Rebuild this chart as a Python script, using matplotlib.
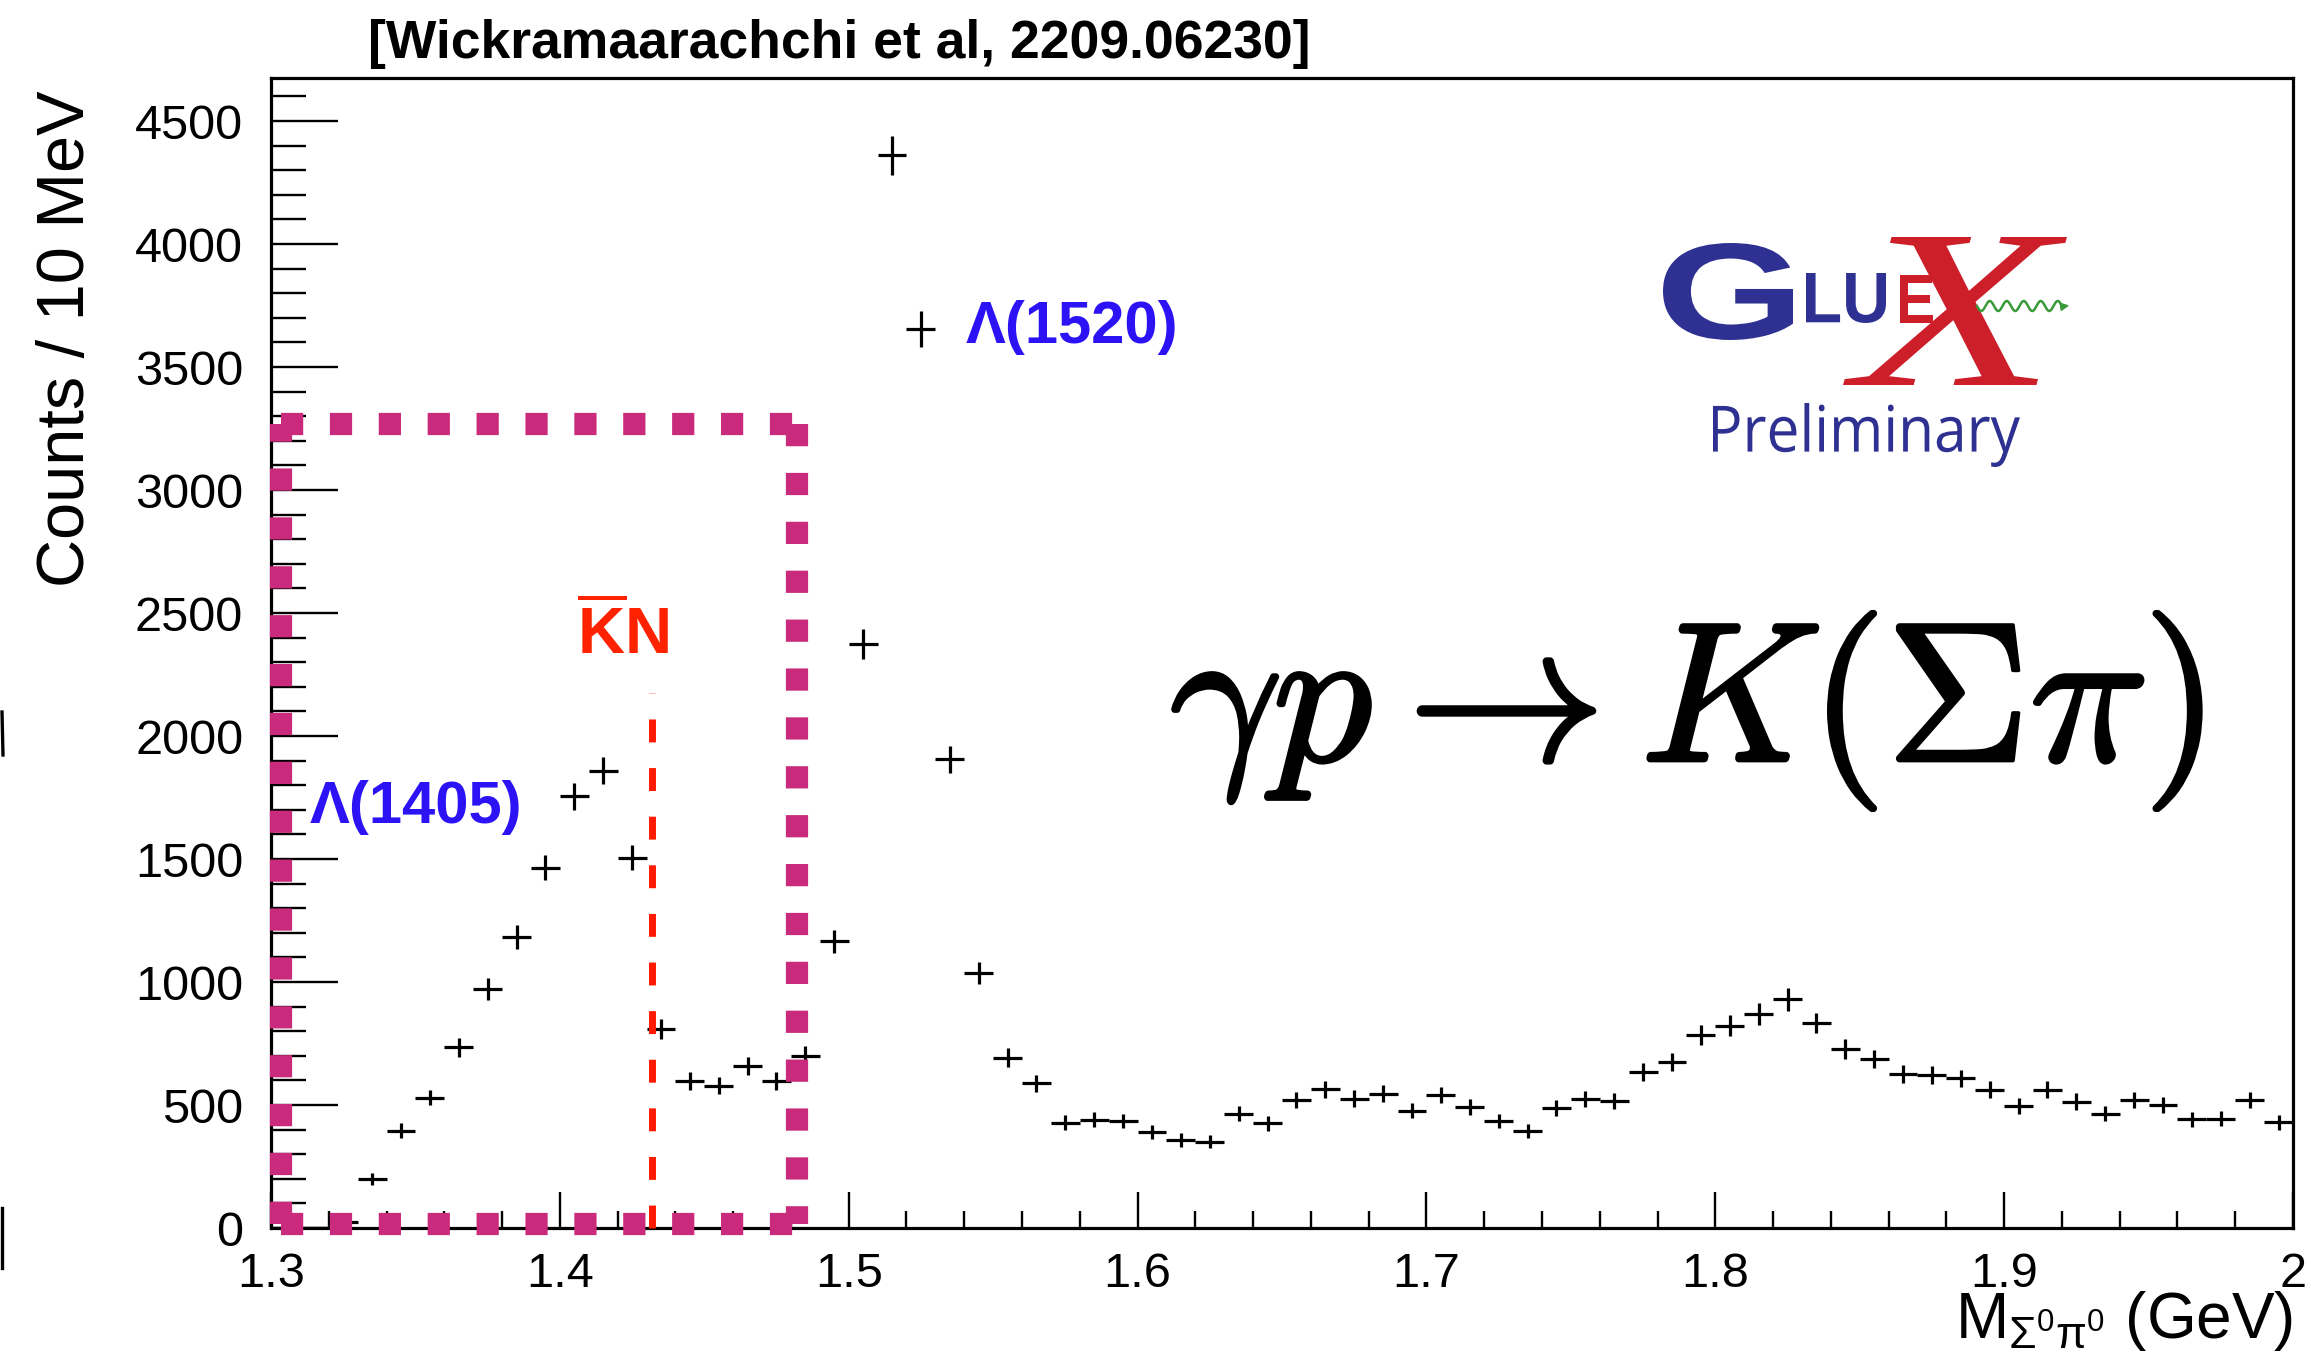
import matplotlib
matplotlib.use('Agg')
import matplotlib.pyplot as plt
import matplotlib.patheffects as pe
import numpy as np
from matplotlib.ticker import MultipleLocator, FuncFormatter
from matplotlib.textpath import TextPath
from matplotlib.patches import PathPatch
from matplotlib.font_manager import FontProperties
from matplotlib.transforms import Affine2D

plt.rcParams['font.family'] = ['Liberation Sans', 'DejaVu Sans']
plt.rcParams['mathtext.fontset'] = 'custom'
plt.rcParams['mathtext.rm'] = 'Liberation Sans'
plt.rcParams['mathtext.it'] = 'Liberation Sans:italic'
plt.rcParams['mathtext.bf'] = 'Liberation Sans:bold'

# Sigma0 pi0 invariant mass, 10 MeV bins from 1.30 to 2.00 GeV
bin_lo, bin_hi, bin_w = 1.30, 2.00, 0.01
counts = [0, 0, 25, 200, 395, 530, 735, 972, 1183, 1465,
          1755, 1858, 1505, 810, 597, 578, 657, 598, 701, 1166,
          2375, 4360, 3655, 1905, 1038, 692, 589, 428, 441, 435,
          389, 358, 351, 464, 426, 519, 564, 526, 546, 477,
          540, 493, 435, 393, 488, 523, 515, 634, 675, 784,
          822, 871, 930, 833, 728, 686, 625, 623, 609, 563,
          496, 563, 514, 464, 520, 499, 442, 444, 519, 430]
errors = [0, 0, 10, 25, 30, 32, 38, 44, 47, 51,
          54, 55, 51, 41, 36, 35, 37, 36, 38, 47,
          62, 78, 72, 56, 45, 38, 35, 30, 30, 30,
          28, 27, 27, 31, 30, 33, 35, 33, 34, 31,
          33, 32, 30, 28, 32, 33, 33, 36, 37, 40,
          42, 44, 46, 42, 39, 37, 36, 36, 35, 34,
          32, 34, 33, 31, 33, 32, 30, 30, 33, 30]

# annotations
kn_threshold = 1.432
kn_line_top = 2175
box_x = [1.3036, 1.482]
box_y = [15, 3270]
label_1405 = (1.3133, 1708)
label_1520 = (1.5403, 3661)
label_kn = (1.4219, 2415)
reaction = (1.790, 1900)

centers = np.linspace(bin_lo + bin_w / 2, bin_hi - bin_w / 2, len(counts))

fig = plt.figure(figsize=(23.11, 13.70), dpi=100)
ax = fig.add_axes([271 / 2311, 1 - 1228 / 1370, 2022 / 2311, 1150 / 1370])

ax.errorbar(centers, counts, xerr=bin_w / 2, yerr=errors, fmt='none',
            ecolor='black', elinewidth=2.3, capsize=0, zorder=3)

ax.set_xlim(bin_lo, bin_hi)
ax.set_ylim(0, 4675)
ax.xaxis.set_major_locator(MultipleLocator(0.1))
ax.xaxis.set_minor_locator(MultipleLocator(0.02))
ax.yaxis.set_major_locator(MultipleLocator(500))
ax.yaxis.set_minor_locator(MultipleLocator(100))
ax.xaxis.set_major_formatter(FuncFormatter(lambda v, p: f'{v:g}'))

ax.tick_params(which='both', direction='in', top=False, right=False, width=1.7)
ax.tick_params(axis='y', which='major', length=48, pad=20, labelsize=35)
ax.tick_params(axis='y', which='minor', length=25)
ax.tick_params(axis='x', which='major', length=26, pad=17, labelsize=35)
ax.tick_params(axis='x', which='minor', length=12)
for sp in ax.spines.values():
    sp.set_linewidth(2.3)

ax.set_ylabel('Counts / 10 MeV', fontsize=48)
ax.yaxis.set_label_coords(-0.0855, 0.773)
ax.text(1.0, -0.0957, r'$\mathrm{M}_{\mathrm{\Sigma^{0}\pi^{0}}}$ (GeV)',
        transform=ax.transAxes, fontsize=46, ha='right', va='baseline')

# K-bar N threshold
ax.plot([kn_threshold, kn_threshold], [0, kn_line_top], color='#FF1A00',
        lw=5, ls=(0, (3.3, 3.7)), zorder=4, clip_on=False)
ax.text(*label_kn, r'$\overline{\mathbf{K}}\mathbf{N}$', color='#FF2200',
        fontsize=47, ha='center', va='center')

# dotted box round the low-mass region
magenta = '#CA2A7B'
x0, x1 = box_x
y0, y1 = box_y
for xs, ys in [((x0, x0), (y0, y1)), ((x0, x1), (y1, y1)),
               ((x1, x1), (y1, y0)), ((x0, x1), (y0, y0))]:
    ax.plot(xs, ys, color=magenta, lw=16, ls=(0, (1.0, 1.2)),
            dash_capstyle='butt', clip_on=False, zorder=6)

ax.text(*label_1405, 'Λ(1405)', color='#2B13F5', fontsize=43,
        fontweight='bold', ha='left', va='center')
ax.text(*label_1520, 'Λ(1520)', color='#2B13F5', fontsize=43,
        fontweight='bold', ha='left', va='center')

ax.text(*reaction, r'$\gamma p \rightarrow K(\Sigma\pi)$', fontsize=143,
        ha='center', va='baseline', math_fontfamily='cm',
        path_effects=[pe.withStroke(linewidth=2.5, foreground='black')])

fig.text(368 / 2311, 1 - 44 / 1370, '[Wickramaarachchi et al, 2209.06230]',
         fontsize=38.5, fontweight='bold', ha='left', va='center')

# logo drawn in pixel coordinates on a transparent overlay
ov = fig.add_axes([0, 0, 1, 1], zorder=10)
ov.set_xlim(0, 2311)
ov.set_ylim(1370, 0)
ov.axis('off')


def glyph(s, box, color, **font):
    tp = TextPath((0, 0), s, size=100, prop=FontProperties(**font))
    bb = tp.get_extents()
    bx0, by0, bx1, by1 = box
    tr = (Affine2D().translate(-bb.x0, -bb.y1)
          .scale((bx1 - bx0) / bb.width, -(by1 - by0) / bb.height)
          .translate(bx0, by0))
    ov.add_patch(PathPatch(tr.transform_path(tp), fc=color, ec='none'))


gx_blue = '#2E3192'
gx_red = '#CC1F2A'
glyph('G', (1663, 243, 1793, 340), gx_blue, family='Liberation Sans', weight='bold')
glyph('LU', (1806, 273, 1886, 323), gx_blue, family='Liberation Sans', weight='bold')
glyph('E', (1900, 275, 1933, 323), gx_red, family='Liberation Sans', weight='bold')
glyph('X', (1843, 237, 2067, 385), gx_red, family='Liberation Serif', style='italic')
glyph('Preliminary', (1713, 403, 2020, 467), gx_blue, family='Open Sans')

wx = np.linspace(1977, 2062, 200)
ov.plot(wx, 306 + 5 * np.sin((wx - 1977) / 85 * 5 * 2 * np.pi), color='#3A9A3A', lw=1.8)
ov.annotate('', xy=(2072, 305), xytext=(2060, 307),
            arrowprops=dict(arrowstyle='-|>', color='#3A9A3A', lw=1.2,
                            mutation_scale=12))

# edge strokes
ov.plot([2, 3], [712, 755], color='black', lw=2.4)
ov.plot([2, 2], [1208, 1268], color='black', lw=2.4)

fig.savefig('out.png', dpi=100)
